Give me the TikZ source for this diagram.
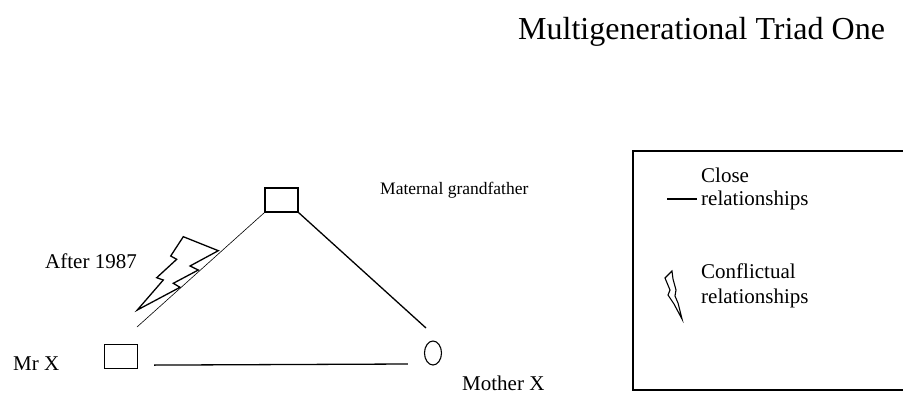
\documentclass[tikz,border=0pt]{standalone}
\usepackage{fontspec}
\setmainfont{Liberation Serif}
\usetikzlibrary{shapes.geometric,calc}

\begin{document}
\begin{tikzpicture}[
    x=1pt, y=-1pt,
    person/.style={draw, line width=1.2pt, minimum width=33pt, minimum height=24pt, inner sep=0pt},
    female/.style={draw, ellipse, line width=1.1pt, minimum width=17pt, minimum height=24pt, inner sep=0pt},
    txt/.style={anchor=base west, inner sep=0pt, font=\fontsize{21}{24}\selectfont},
    closeline/.style={line width=1.3pt},
    weakline/.style={line width=0.6pt},
    bolt/.style={line width=1.3pt, line join=miter}
  ]
  \useasboundingbox (0,0) rectangle (903,394);
  % title
  \node[txt, font=\fontsize{32}{36}\selectfont] (title) at (518,39) {Multigenerational Triad One};
  % triad
  \node[person] (gf) at (281.5,200) {};
  \node[person] (mrx) at (121,356.5) {};
  \node[female] (mother) at (433,353) {};
  \coordinate (gfend) at (137,327);
  \coordinate (motherend) at (426,328);
  \draw[weakline] (gf.south west) -- (gfend);
  \draw[closeline] (gf.south east) -- (motherend);
  \draw[closeline] ([shift={(16,-4)}]mrx.south east) -- ([shift={(-16,11)}]mother.west);
  \draw[bolt] (183.3,236.7) -- (218.3,250.7) -- (190,266) -- (198.3,270) -- (173.3,283.3)
    -- (180,287.3) -- (137.3,310) -- (163.3,280) -- (156.7,277.7) -- (176.7,259.3)
    -- (170.7,256) -- cycle;
  \node[txt, font=\fontsize{17.5}{20}\selectfont] (gflabel) at (380,194) {Maternal grandfather};
  \node[txt] (after) at (45,268) {After 1987};
  \node[txt] (mrxlabel) at (13,370) {Mr X};
  \node[txt] (motherlabel) at (462,390) {Mother X};
  % legend
  \draw[line width=1.5pt] (906,151) -- (633,151) -- (633,390) -- (906,390);
  \draw[line width=2pt] (667,199) -- (697,199);
  \node[txt] (closea) at (701,182) {Close};
  \node[txt] (closeb) at (701,205) {relationships};
  \draw[line width=1.1pt, line join=miter] (672,271) -- (665,278) -- (670,290) -- (668,295)
    -- (674,304) -- (682,319) -- (678,303) -- (675,296) -- (676,290) -- (673,279) -- cycle;
  \node[txt] (conflicta) at (701,278) {Conflictual};
  \node[txt] (conflictb) at (701,303) {relationships};
\end{tikzpicture}
\end{document}
